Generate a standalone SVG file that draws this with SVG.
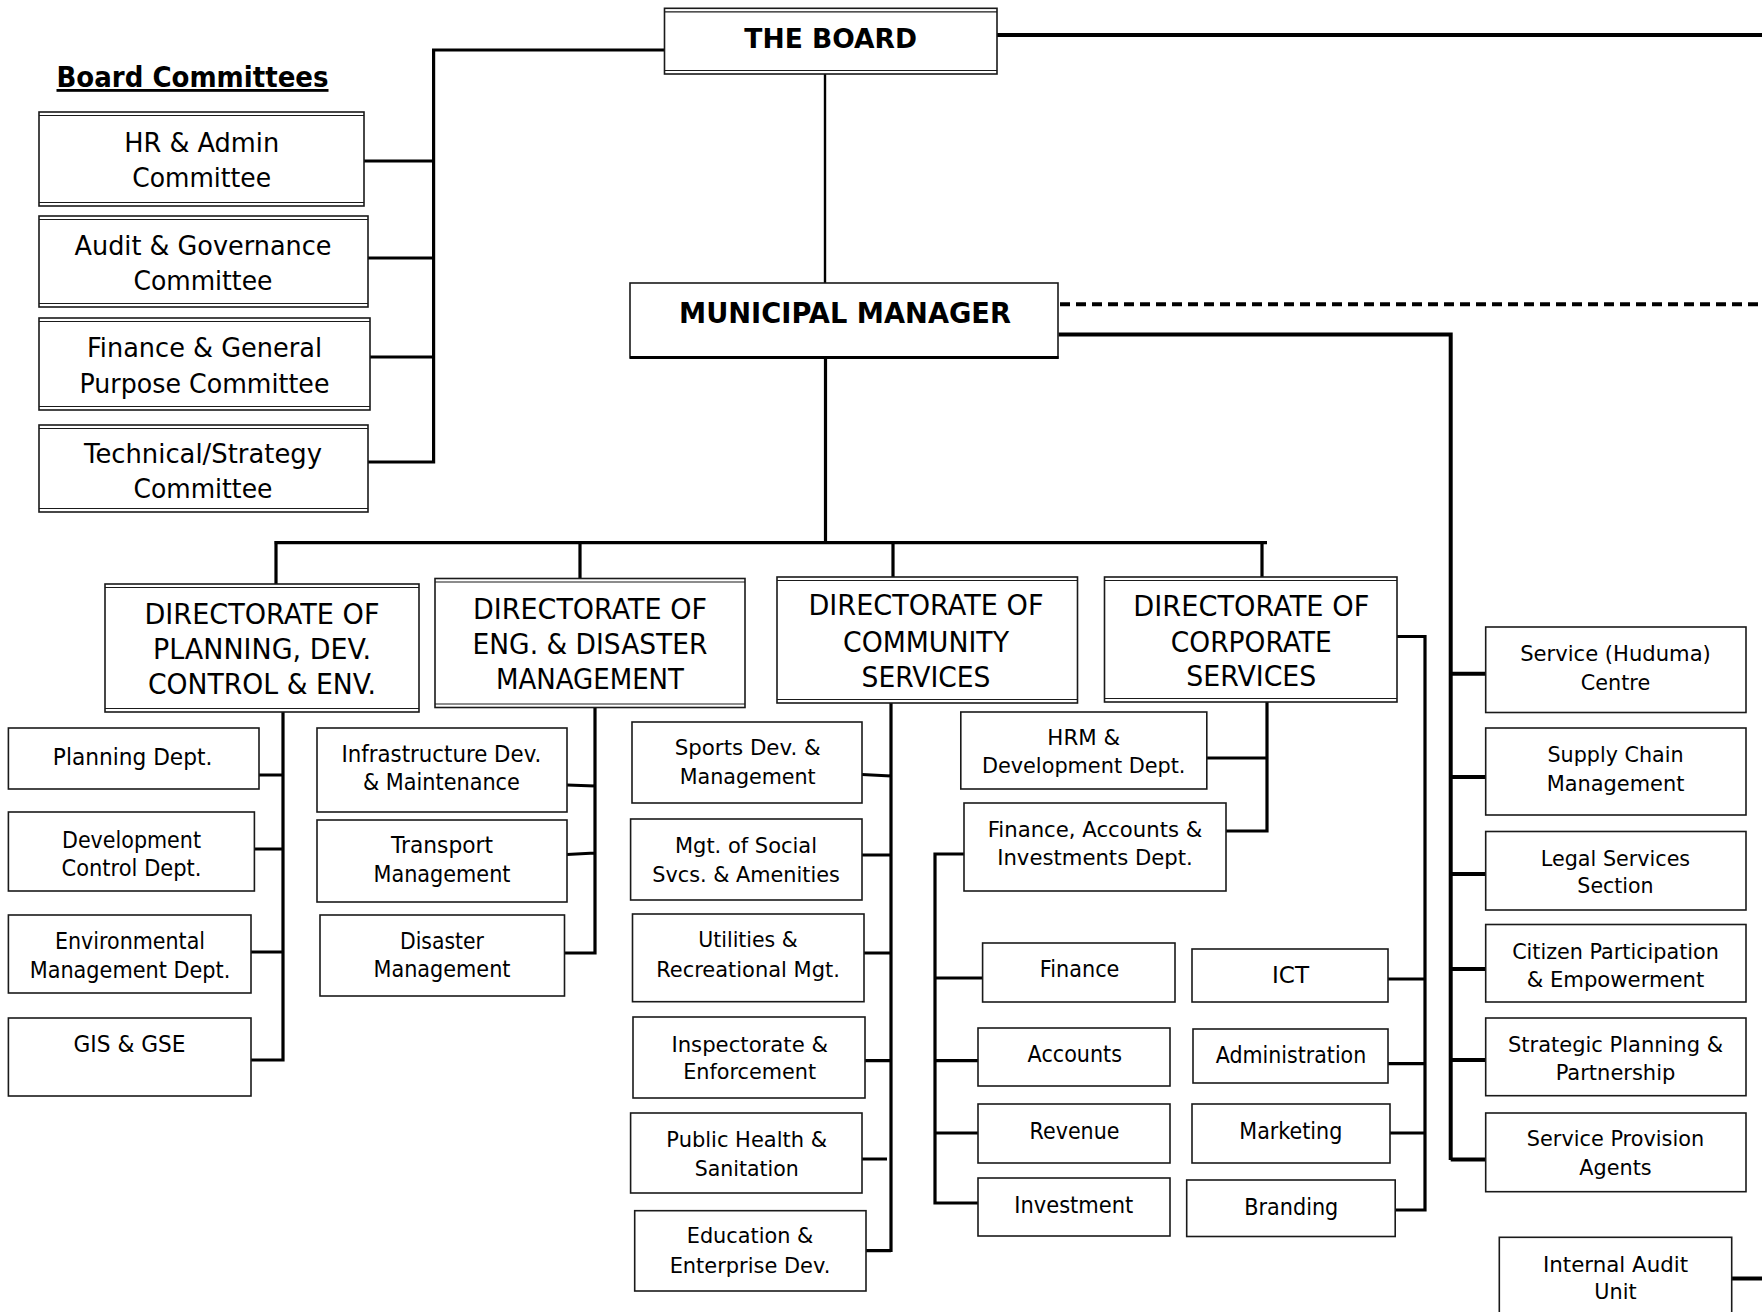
<svg xmlns="http://www.w3.org/2000/svg" width="1762" height="1312" viewBox="0 0 1762 1312">
<style>
.bx{fill:#fff;stroke:#1a1a1a;stroke-width:1.6}
.in{stroke:#1a1a1a;stroke-width:1.2}
.t{font-family:"DejaVu Sans","Liberation Sans",sans-serif;fill:#000;text-anchor:middle}
.c27{font-size:27px}
.c29{font-size:29px}
.c23{font-size:23px}
.c22{font-size:22px}
.v21{font-size:21px}
.b{font-weight:bold}
.cn{fill:none;stroke:#000;stroke-width:3.2}
.cn4{fill:none;stroke:#000;stroke-width:4}
</style>
<rect width="1762" height="1312" fill="#fff"/>

<g id="connectors">
<path class="cn" d="M664.5,50 H433.6 V463.5 M364,161 H433.6 M368,258 H433.6 M370,357 H433.6 M368,462 H433.6"/>
<path class="cn4" d="M997,35 H1762"/>
<path fill="none" stroke="#000" stroke-width="2.4" d="M825,74 V283"/>
<path class="cn" d="M825.5,358 V542.7 M274.3,542.7 H1267 M276,542.7 V586 M580,542.7 V579 M893,542.7 V577 M1262,542.7 V577"/>
<path class="cn4" stroke-dasharray="10 6" d="M1060,304.3 H1762"/>
<path class="cn4" d="M1058.5,334.5 H1450.7 V1160 M1450.7,673.7 H1485.7 M1450.7,777 H1485.7 M1450.7,874 H1485.7 M1450.7,969 H1485.7 M1450.7,1060 H1485.7 M1450.7,1159.5 H1485.7"/>
<path class="cn4" d="M1731.7,1278.5 H1762"/>
<path class="cn" d="M283,712 V1061.5 M259,775 H283 M254.5,849 H283 M251,952 H283 M251,1060 H283"/>
<path class="cn" d="M595,707 V954.5 M567,785 L595,786 M567,854.5 L595,853 M564.5,953 H595"/>
<path class="cn" d="M891,703 V1252 M862,774.5 L891,776 M862,855 H891 M864,953 H891 M865,1060.7 H891 M862,1159 H887 M866,1250.7 H891"/>
<path class="cn" d="M1267,702 V832.5 M1207,758 H1267 M1226,831 H1267"/>
<path class="cn" d="M964,854 H935 V1204.5 M935,978 H982.6 M935,1060.7 H978 M935,1133 H978 M935,1203 H978"/>
<path class="cn" d="M1397,636.5 H1425 V1211.5 M1388,979 H1425 M1388,1063.6 H1425 M1390,1133 H1425 M1395.7,1210 H1425"/>
</g>

<g id="board-committees-title">
<text class="t b" x="192.5" y="87" font-size="28" textLength="272" lengthAdjust="spacingAndGlyphs" text-decoration="underline">Board Committees</text>
</g>

<g id="hr-admin">
<rect class="bx" x="39" y="112" width="325" height="94"/>
<path class="in" d="M39,115.5 H364 M39,202.5 H364"/>
<text class="t c27" x="201.7" y="152" textLength="155" lengthAdjust="spacingAndGlyphs">HR &amp; Admin</text>
<text class="t c27" x="201.7" y="187" textLength="139" lengthAdjust="spacingAndGlyphs">Committee</text>
</g>
<g id="audit-governance">
<rect class="bx" x="39" y="216" width="329" height="91"/>
<path class="in" d="M39,219.5 H368 M39,303.5 H368"/>
<text class="t c27" x="203" y="255" textLength="257" lengthAdjust="spacingAndGlyphs">Audit &amp; Governance</text>
<text class="t c27" x="203" y="290" textLength="139" lengthAdjust="spacingAndGlyphs">Committee</text>
</g>
<g id="finance-general">
<rect class="bx" x="39" y="318" width="331" height="92"/>
<path class="in" d="M39,321.5 H370 M39,406.5 H370"/>
<text class="t c27" x="204.5" y="357" textLength="235" lengthAdjust="spacingAndGlyphs">Finance &amp; General</text>
<text class="t c27" x="204.5" y="393" textLength="250" lengthAdjust="spacingAndGlyphs">Purpose Committee</text>
</g>
<g id="technical-strategy">
<rect class="bx" x="39" y="425" width="329" height="87"/>
<path class="in" d="M39,428.5 H368 M39,508.5 H368"/>
<text class="t c27" x="203" y="463" textLength="238" lengthAdjust="spacingAndGlyphs">Technical/Strategy</text>
<text class="t c27" x="203" y="498" textLength="139" lengthAdjust="spacingAndGlyphs">Committee</text>
</g>

<g id="the-board">
<rect class="bx" x="664.5" y="8.3" width="332.5" height="65.7"/>
<path class="in" d="M664.5,11.8 H997 M664.5,70.5 H997"/>
<text class="t b c27" x="830.7" y="48" textLength="172.7" lengthAdjust="spacingAndGlyphs">THE BOARD</text>
</g>

<g id="municipal-manager">
<rect class="bx" x="630" y="283" width="428" height="75"/>
<path stroke="#000" stroke-width="3" d="M630,357.5 H1058.5"/>
<text class="t b c29" x="845" y="323" textLength="332" lengthAdjust="spacingAndGlyphs">MUNICIPAL MANAGER</text>
</g>

<g id="dir-planning">
<rect class="bx" x="105" y="584" width="314" height="128"/>
<path class="in" d="M105,587.5 H419 M105,708.5 H419"/>
<text class="t c29" x="262" y="624" textLength="235" lengthAdjust="spacingAndGlyphs">DIRECTORATE OF</text>
<text class="t c29" x="262" y="659" textLength="218" lengthAdjust="spacingAndGlyphs">PLANNING, DEV.</text>
<text class="t c29" x="262" y="694" textLength="228" lengthAdjust="spacingAndGlyphs">CONTROL &amp; ENV.</text>
</g>
<g id="dir-engineering">
<rect class="bx" x="435" y="578.5" width="310" height="129"/>
<path class="in" d="M435,582 H745 M435,704 H745"/>
<text class="t c29" x="590" y="619" textLength="234" lengthAdjust="spacingAndGlyphs">DIRECTORATE OF</text>
<text class="t c29" x="590" y="654" textLength="235" lengthAdjust="spacingAndGlyphs">ENG. &amp; DISASTER</text>
<text class="t c29" x="590" y="689" textLength="188" lengthAdjust="spacingAndGlyphs">MANAGEMENT</text>
</g>
<g id="dir-community">
<rect class="bx" x="777" y="577" width="300.5" height="126"/>
<path class="in" d="M777,580.5 H1077.5 M777,699.5 H1077.5"/>
<text class="t c29" x="926" y="615" textLength="235" lengthAdjust="spacingAndGlyphs">DIRECTORATE OF</text>
<text class="t c29" x="926" y="652" textLength="166" lengthAdjust="spacingAndGlyphs">COMMUNITY</text>
<text class="t c29" x="926" y="687" textLength="129" lengthAdjust="spacingAndGlyphs">SERVICES</text>
</g>
<g id="dir-corporate">
<rect class="bx" x="1104.5" y="577" width="292.5" height="125"/>
<path class="in" d="M1104.5,580.5 H1397 M1104.5,698.5 H1397"/>
<text class="t c29" x="1251.3" y="615.5" textLength="236" lengthAdjust="spacingAndGlyphs">DIRECTORATE OF</text>
<text class="t c29" x="1251.3" y="652" textLength="161" lengthAdjust="spacingAndGlyphs">CORPORATE</text>
<text class="t c29" x="1251.3" y="686" textLength="130" lengthAdjust="spacingAndGlyphs">SERVICES</text>
</g>

<g id="planning-dept">
<rect class="bx" x="8.4" y="728" width="250.6" height="61"/>
<text class="t c23" x="132.6" y="765" textLength="159.6" lengthAdjust="spacingAndGlyphs">Planning Dept.</text>
</g>
<g id="dev-control">
<rect class="bx" x="8.4" y="812" width="246" height="79"/>
<text class="t c23" x="131.5" y="847.5" textLength="139" lengthAdjust="spacingAndGlyphs">Development</text>
<text class="t c23" x="131.5" y="876" textLength="140" lengthAdjust="spacingAndGlyphs">Control Dept.</text>
</g>
<g id="env-mgmt">
<rect class="bx" x="8.4" y="915" width="242.6" height="78"/>
<text class="t c23" x="130" y="948.6" textLength="150" lengthAdjust="spacingAndGlyphs">Environmental</text>
<text class="t c23" x="130" y="978" textLength="200.6" lengthAdjust="spacingAndGlyphs">Management Dept.</text>
</g>
<g id="gis-gse">
<rect class="bx" x="8.4" y="1018" width="242.6" height="78"/>
<text class="t c23" x="129.5" y="1052" textLength="112" lengthAdjust="spacingAndGlyphs">GIS &amp; GSE</text>
</g>

<g id="infrastructure">
<rect class="bx" x="317" y="728" width="250" height="84"/>
<text class="t c23" x="441.4" y="762" textLength="200" lengthAdjust="spacingAndGlyphs">Infrastructure Dev.</text>
<text class="t c23" x="441.4" y="790" textLength="157" lengthAdjust="spacingAndGlyphs">&amp; Maintenance</text>
</g>
<g id="transport">
<rect class="bx" x="317" y="820" width="250" height="82"/>
<text class="t c23" x="442" y="853" textLength="102" lengthAdjust="spacingAndGlyphs">Transport</text>
<text class="t c23" x="442" y="882" textLength="137" lengthAdjust="spacingAndGlyphs">Management</text>
</g>
<g id="disaster">
<rect class="bx" x="320" y="915" width="244.5" height="81"/>
<text class="t c23" x="442" y="948.6" textLength="84" lengthAdjust="spacingAndGlyphs">Disaster</text>
<text class="t c23" x="442" y="977" textLength="137" lengthAdjust="spacingAndGlyphs">Management</text>
</g>

<g id="sports">
<rect class="bx" x="632" y="722" width="230" height="81"/>
<text class="t c22" x="747.7" y="755" textLength="146" lengthAdjust="spacingAndGlyphs">Sports Dev. &amp;</text>
<text class="t c22" x="747.7" y="784" textLength="136" lengthAdjust="spacingAndGlyphs">Management</text>
</g>
<g id="social-services">
<rect class="bx" x="630.6" y="819" width="231.4" height="81"/>
<text class="t c22" x="746" y="853" textLength="142" lengthAdjust="spacingAndGlyphs">Mgt. of Social</text>
<text class="t c22" x="746" y="882" textLength="187.6" lengthAdjust="spacingAndGlyphs">Svcs. &amp; Amenities</text>
</g>
<g id="utilities">
<rect class="bx" x="632.5" y="914" width="231.5" height="87.7"/>
<text class="t c22" x="748" y="947" textLength="99.5" lengthAdjust="spacingAndGlyphs">Utilities &amp;</text>
<text class="t c22" x="748" y="977" textLength="183.7" lengthAdjust="spacingAndGlyphs">Recreational Mgt.</text>
</g>
<g id="inspectorate">
<rect class="bx" x="633" y="1017" width="232" height="81"/>
<text class="t c22" x="749.7" y="1052" textLength="156.6" lengthAdjust="spacingAndGlyphs">Inspectorate &amp;</text>
<text class="t c22" x="749.7" y="1079" textLength="133" lengthAdjust="spacingAndGlyphs">Enforcement</text>
</g>
<g id="public-health">
<rect class="bx" x="630.6" y="1113" width="231.4" height="80"/>
<text class="t c22" x="746.7" y="1147" textLength="160.7" lengthAdjust="spacingAndGlyphs">Public Health &amp;</text>
<text class="t c22" x="746.7" y="1176" textLength="104" lengthAdjust="spacingAndGlyphs">Sanitation</text>
</g>
<g id="education">
<rect class="bx" x="634.7" y="1210.7" width="231.3" height="80.3"/>
<text class="t c22" x="750" y="1243" textLength="126.5" lengthAdjust="spacingAndGlyphs">Education &amp;</text>
<text class="t c22" x="750" y="1273" textLength="160.7" lengthAdjust="spacingAndGlyphs">Enterprise Dev.</text>
</g>

<g id="hrm">
<rect class="bx" x="960.8" y="712" width="246" height="77"/>
<text class="t c22" x="1083.7" y="745" textLength="72.7" lengthAdjust="spacingAndGlyphs">HRM &amp;</text>
<text class="t c22" x="1083.7" y="773" textLength="203.6" lengthAdjust="spacingAndGlyphs">Development Dept.</text>
</g>
<g id="finance-accounts-investments">
<rect class="bx" x="964" y="803" width="262" height="88"/>
<text class="t c22" x="1095" y="837" textLength="214.6" lengthAdjust="spacingAndGlyphs">Finance, Accounts &amp;</text>
<text class="t c22" x="1095" y="865" textLength="195.6" lengthAdjust="spacingAndGlyphs">Investments Dept.</text>
</g>
<g id="finance">
<rect class="bx" x="982.6" y="943" width="192.4" height="59"/>
<text class="t c23" x="1079.6" y="977" textLength="79.6" lengthAdjust="spacingAndGlyphs">Finance</text>
</g>
<g id="accounts">
<rect class="bx" x="978" y="1028" width="192" height="58"/>
<text class="t c23" x="1074.8" y="1062" textLength="94.4" lengthAdjust="spacingAndGlyphs">Accounts</text>
</g>
<g id="revenue">
<rect class="bx" x="978" y="1104" width="192" height="59"/>
<text class="t c23" x="1074.5" y="1139" textLength="89.8" lengthAdjust="spacingAndGlyphs">Revenue</text>
</g>
<g id="investment">
<rect class="bx" x="978" y="1178" width="192" height="58"/>
<text class="t c23" x="1073.8" y="1213" textLength="118.9" lengthAdjust="spacingAndGlyphs">Investment</text>
</g>
<g id="ict">
<rect class="bx" x="1192" y="949" width="196" height="53"/>
<text class="t c23" x="1290.5" y="983" textLength="37" lengthAdjust="spacingAndGlyphs">ICT</text>
</g>
<g id="administration">
<rect class="bx" x="1193" y="1029" width="195" height="54"/>
<text class="t c23" x="1291" y="1063" textLength="150.5" lengthAdjust="spacingAndGlyphs">Administration</text>
</g>
<g id="marketing">
<rect class="bx" x="1192" y="1104" width="198" height="59"/>
<text class="t c23" x="1290.8" y="1139" textLength="103" lengthAdjust="spacingAndGlyphs">Marketing</text>
</g>
<g id="branding">
<rect class="bx" x="1186.7" y="1180" width="208.5" height="56.5"/>
<text class="t c23" x="1291.3" y="1215" textLength="94" lengthAdjust="spacingAndGlyphs">Branding</text>
</g>

<g id="huduma-centre">
<rect class="bx" x="1485.7" y="627" width="260.3" height="85.5"/>
<text class="t v21" x="1615.5" y="661" textLength="190.7" lengthAdjust="spacingAndGlyphs">Service (Huduma)</text>
<text class="t v21" x="1615.5" y="689.5" textLength="69.3" lengthAdjust="spacingAndGlyphs">Centre</text>
</g>
<g id="supply-chain">
<rect class="bx" x="1485.7" y="728" width="260.3" height="87"/>
<text class="t v21" x="1615.5" y="762" textLength="136" lengthAdjust="spacingAndGlyphs">Supply Chain</text>
<text class="t v21" x="1615.5" y="791" textLength="137.7" lengthAdjust="spacingAndGlyphs">Management</text>
</g>
<g id="legal-services">
<rect class="bx" x="1485.7" y="831.5" width="260.3" height="78.5"/>
<text class="t v21" x="1615.5" y="866" textLength="149.3" lengthAdjust="spacingAndGlyphs">Legal Services</text>
<text class="t v21" x="1615.5" y="893" textLength="76.3" lengthAdjust="spacingAndGlyphs">Section</text>
</g>
<g id="citizen-participation">
<rect class="bx" x="1485.7" y="924.5" width="260.3" height="77.5"/>
<text class="t v21" x="1615.5" y="959" textLength="206.7" lengthAdjust="spacingAndGlyphs">Citizen Participation</text>
<text class="t v21" x="1615.5" y="987" textLength="177.7" lengthAdjust="spacingAndGlyphs">&amp; Empowerment</text>
</g>
<g id="strategic-planning">
<rect class="bx" x="1485.7" y="1018" width="260.3" height="77.7"/>
<text class="t v21" x="1615.5" y="1051.6" textLength="215" lengthAdjust="spacingAndGlyphs">Strategic Planning &amp;</text>
<text class="t v21" x="1615.5" y="1080" textLength="119.7" lengthAdjust="spacingAndGlyphs">Partnership</text>
</g>
<g id="service-provision">
<rect class="bx" x="1485.7" y="1113" width="260.3" height="78.7"/>
<text class="t v21" x="1615.5" y="1146" textLength="177.3" lengthAdjust="spacingAndGlyphs">Service Provision</text>
<text class="t v21" x="1615.5" y="1175" textLength="72.3" lengthAdjust="spacingAndGlyphs">Agents</text>
</g>
<g id="internal-audit">
<rect class="bx" x="1499.3" y="1237.3" width="232.4" height="100"/>
<text class="t v21" x="1615.5" y="1271.5" textLength="145" lengthAdjust="spacingAndGlyphs">Internal Audit</text>
<text class="t v21" x="1615.5" y="1299" textLength="42.3" lengthAdjust="spacingAndGlyphs">Unit</text>
</g>
</svg>
